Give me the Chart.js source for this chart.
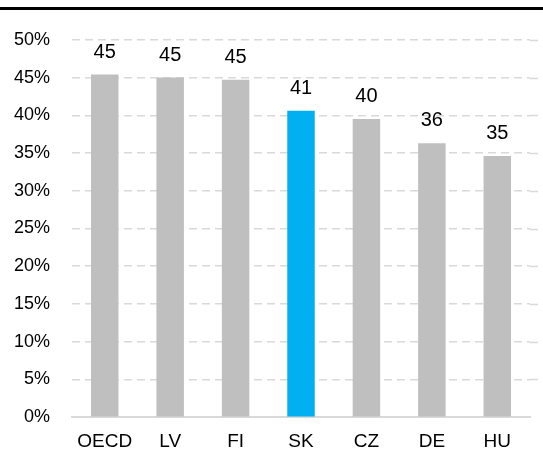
<!DOCTYPE html>
<html>
<head>
<meta charset="utf-8">
<script src="https://cdn.jsdelivr.net/npm/chart.js@4/dist/chart.umd.min.js"></script>
<style>
  html, body { margin: 0; padding: 0; background: #fff; overflow: hidden; }
  #wrap { margin-top: 7px; border-top: 3px solid #000; width: 543px; height: 447px; overflow: hidden; }
  canvas { display: block; margin-left: -8px; margin-top: -3px; }
</style>
</head>
<body>
<div id="wrap"><canvas id="chart" width="551" height="459"></canvas></div>
<script>
const categories = ["OECD", "LV", "FI", "SK", "CZ", "DE", "HU"];
const shareValues = [45.4, 45.0, 44.7, 40.6, 39.5, 36.3, 34.6];
const barLabels = ["45", "45", "45", "41", "40", "36", "35"];
const highlighted = "SK";

const FONT = "'Liberation Sans Narrow', 'Arial Narrow', 'Liberation Sans', Arial, sans-serif";

// labels above each bar
const valueLabels = {
  id: "valueLabels",
  afterDatasetsDraw(chart) {
    const ctx = chart.ctx;
    const meta = chart.getDatasetMeta(0);
    ctx.save();
    ctx.font = "20px " + FONT;
    ctx.fillStyle = "#000";
    ctx.textAlign = "center";
    ctx.textBaseline = "alphabetic";
    meta.data.forEach((bar, i) => {
      ctx.fillText(barLabels[i], bar.x, bar.y - 17);
    });
    ctx.restore();
  }
};

// carry the dashed gridlines to the right edge like the original
const gridTail = {
  id: "gridTail",
  beforeDatasetsDraw(chart) {
    const ctx = chart.ctx;
    const y = chart.scales.y;
    ctx.save();
    ctx.strokeStyle = "#d9d9d9";
    ctx.lineWidth = 1.5;
    ctx.setLineDash([8, 5]);
    y.ticks.forEach(t => {
      if (t.value === 0) return;
      const py = Math.round(y.getPixelForValue(t.value)) + 0.5;
      ctx.beginPath();
      ctx.moveTo(chart.chartArea.right, py);
      ctx.lineTo(chart.width, py);
      ctx.stroke();
    });
    ctx.restore();
  }
};

new Chart(document.getElementById("chart"), {
  type: "bar",
  data: {
    labels: categories,
    datasets: [{
      data: shareValues,
      backgroundColor: categories.map(c => c === highlighted ? "#00b0f0" : "#bfbfbf"),
      borderWidth: 0,
      barPercentage: 0.84,
      categoryPercentage: 0.5
    }]
  },
  options: {
    responsive: false,
    animation: false,
    layout: { padding: { top: 2, right: 13, left: 0, bottom: 0 } },
    plugins: { legend: { display: false }, tooltip: { enabled: false } },
    scales: {
      y: {
        min: 0,
        max: 50,
        ticks: {
          stepSize: 5,
          padding: 22,
          color: "#000",
          font: { family: FONT, size: 18 },
          callback: v => v + "%"
        },
        border: { display: false, dash: [8, 5] },
        grid: {
          color: ctx => ctx.tick.value === 0 ? "transparent" : "#d9d9d9",
          lineWidth: 1.5,
          drawTicks: false
        }
      },
      x: {
        ticks: {
          color: "#000",
          padding: 13,
          font: { family: FONT, size: 19 }
        },
        border: { display: true, color: "#d9d9d9", width: 2 },
        grid: { display: false, drawTicks: false }
      }
    }
  },
  plugins: [valueLabels, gridTail]
});
</script>
</body>
</html>
